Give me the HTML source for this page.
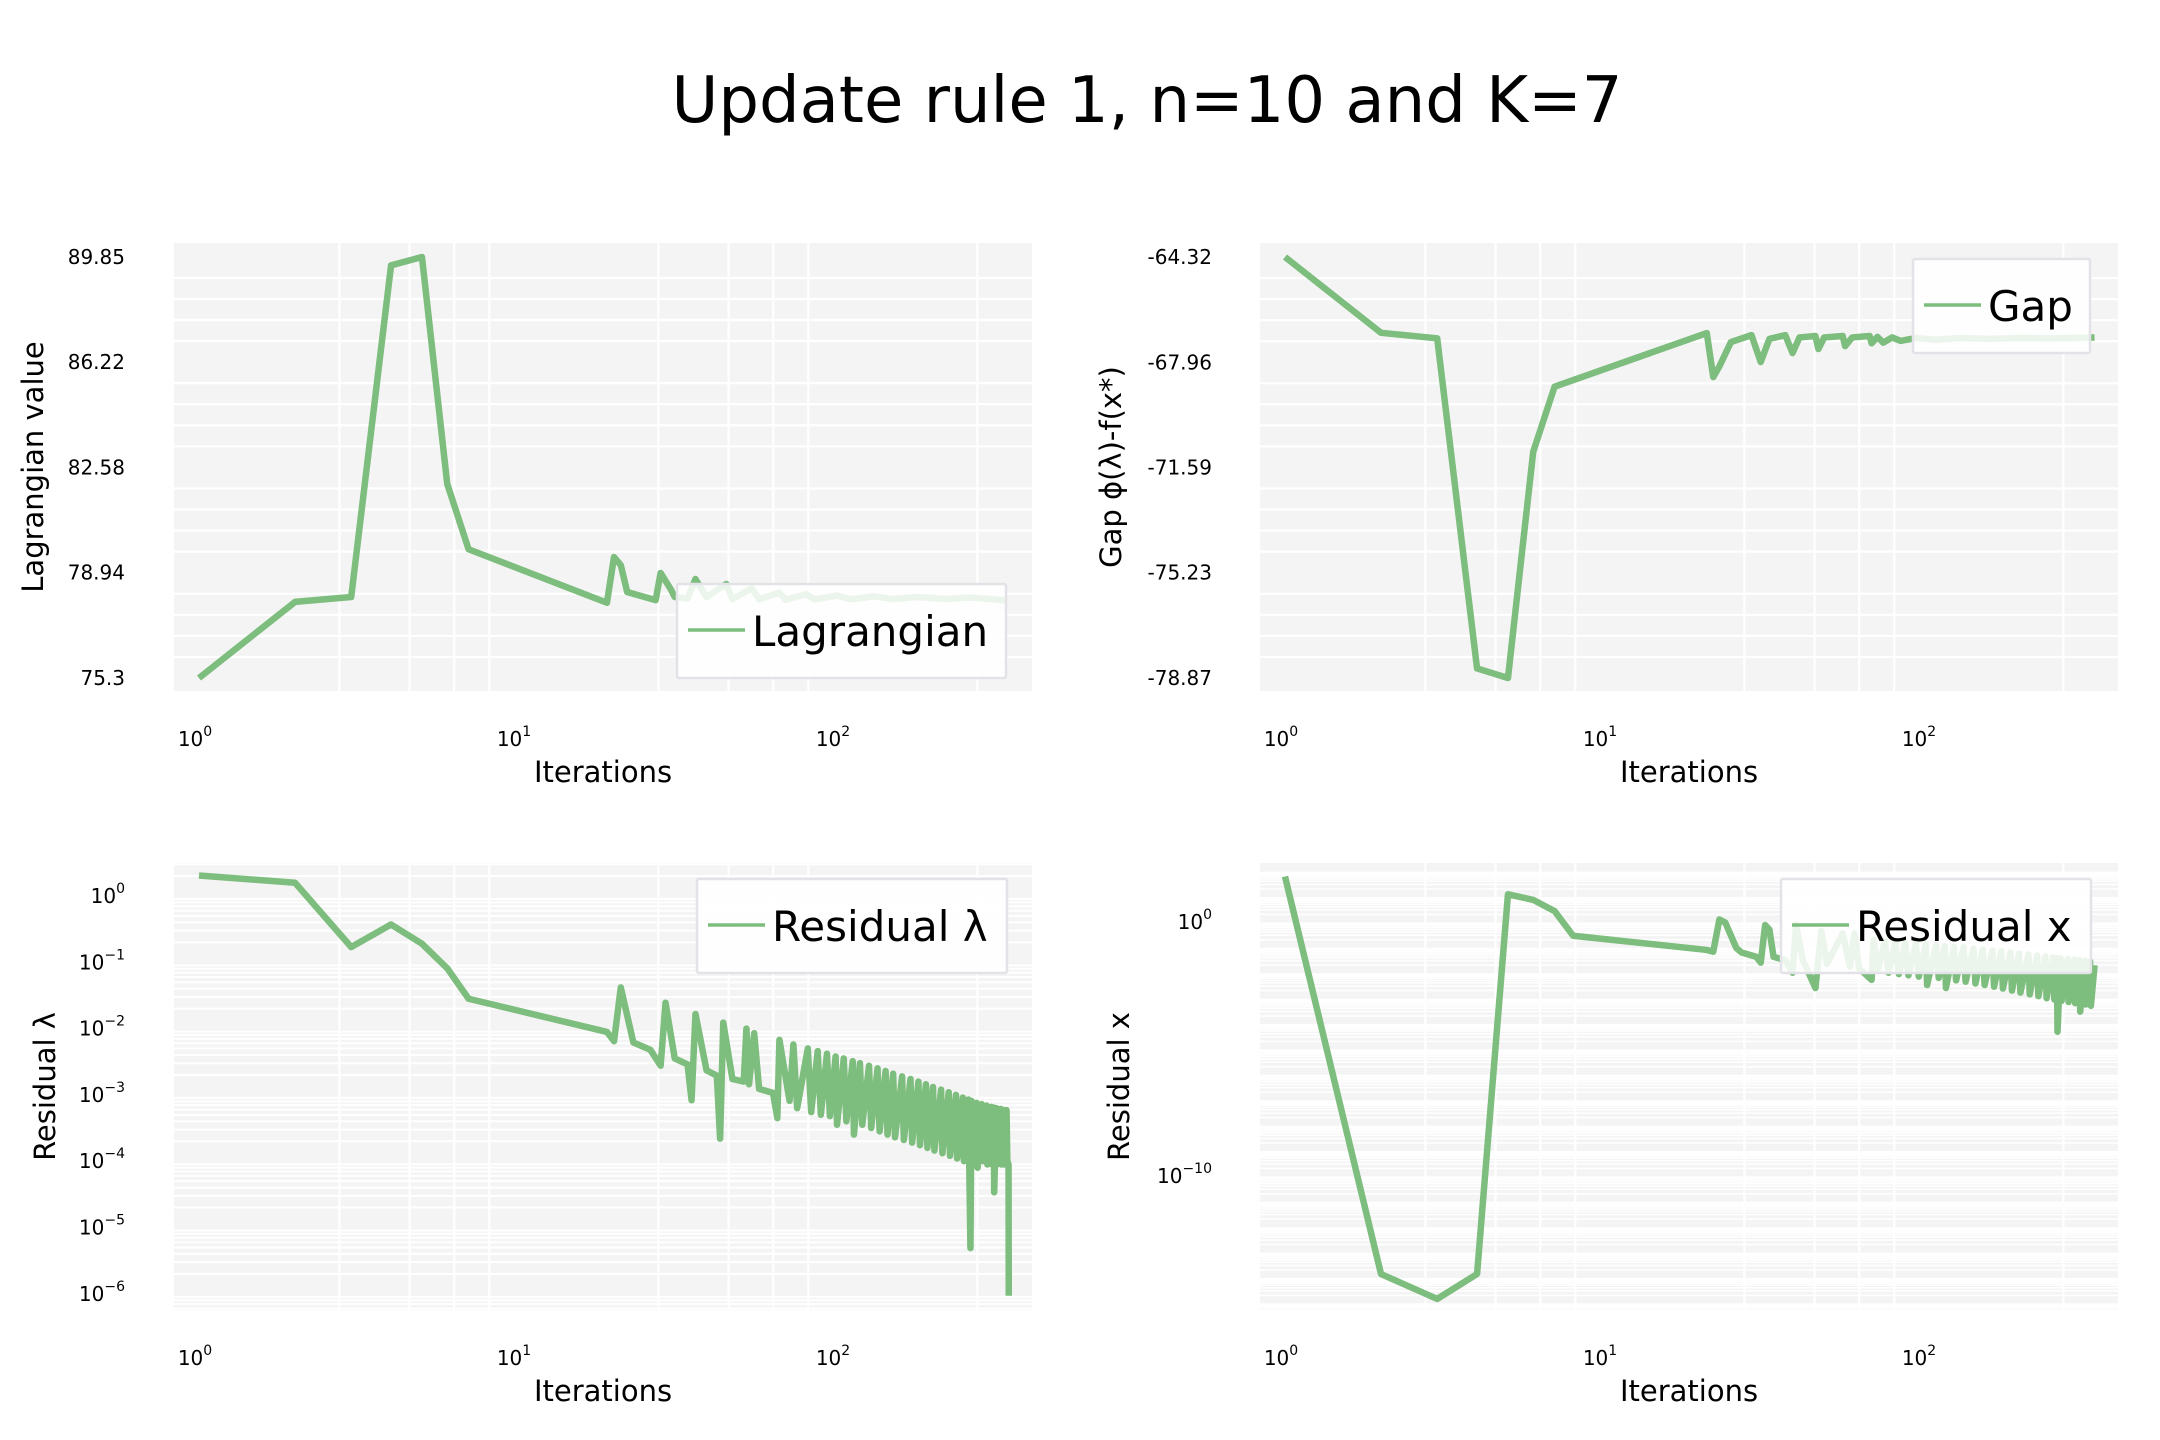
<!DOCTYPE html>
<html><head><meta charset="utf-8"><title>Update rule 1</title>
<style>
html,body{margin:0;padding:0;background:#fff;}
svg{display:block;font-family:"DejaVu Sans","Liberation Sans",sans-serif;}
</style></head>
<body>
<svg id="fig" width="2160" height="1440" viewBox="0 0 2160 1440" xmlns="http://www.w3.org/2000/svg">
<text x="1147" y="122" font-size="64" text-anchor="middle" fill="#000">Update rule 1, n=10 and K=7</text>
</svg>
<script>
// ---- data ----
const xTickExps = [0, 1, 2];
const lagIters = [1,2,3,4,5,6,7,19,20,21,22,27,28,30,31,34,36,39,45,47,54,57,66,69,80,85,100,110,130,150,180,220,260,300,340];
const lagVals = [75.3,77.93,78.1,89.56,89.85,82.01,79.75,77.9,79.48,79.2,78.27,77.99,78.93,78.4,78.1,78.05,78.72,78.1,78.55,78.02,78.4,78.02,78.25,78.0,78.2,78.02,78.15,78.02,78.12,78.03,78.1,78.03,78.08,78.03,77.98];
const lagTicks = [75.3, 78.94, 82.58, 86.22, 89.85];
const lagTickLabels = ["75.3","78.94","82.58","86.22","89.85"];

const gapIters = [1,2,3,4,5,6,7,21,22,23,25,29,31,33,37,39,41,46,47,49,56,57,60,68,69,72,75,80,85,95,110,130,160,200,250,300,345];
const gapVals = [-64.32,-66.94,-67.13,-78.54,-78.87,-71.05,-68.8,-66.95,-68.47,-68.1,-67.26,-67.02,-67.95,-67.15,-67.02,-67.64,-67.1,-67.05,-67.5,-67.1,-67.05,-67.4,-67.1,-67.05,-67.3,-67.08,-67.28,-67.1,-67.22,-67.12,-67.18,-67.12,-67.15,-67.12,-67.13,-67.12,-67.1];
const gapTicks = [-78.87, -75.23, -71.59, -67.96, -64.32];
const gapTickLabels = ["-78.87","-75.23","-71.59","-67.96","-64.32"];

const lamIters = [1,2,3,4,5,6,7,19,20,21,23,26,28,29,31,34,35,36,39,42,43,44,47,51,52,53,55,57,63,65,66,71,73,75,
 81,83,87,89,93,95,99,100,105,107,112,113,118,120,126,128,134,136,142,144,150,152,160,162,170,172,180,182,190,192,200,202,212,214,224,226,236,238,248,250,258,262,264,266,274,276,284,286,294,296,304,306,310,311,316,318,326,328,334,336,340,342,345,345.5];
const lamLog = [0.31,0.2,-0.77,-0.43,-0.72,-1.09,-1.55,-2.05,-2.19,-1.38,-2.21,-2.32,-2.56,-1.61,-2.45,-2.54,-3.08,-1.78,-2.63,-2.71,-3.66,-1.91,-2.76,-2.8,-2.0,-2.84,-2.07,-2.91,-2.97,-3.35,-2.17,-3.09,-2.24,-3.2,
 -2.3,-3.26,-2.34,-3.3,-2.38,-3.32,-2.42,-3.45,-2.45,-3.4,-2.49,-3.6,-2.52,-3.45,-2.56,-3.5,-2.6,-3.55,-2.64,-3.6,-2.68,-3.64,-2.72,-3.68,-2.76,-3.72,-2.8,-3.76,-2.84,-3.8,-2.88,-3.84,-2.92,-3.88,-2.96,-3.92,-3.0,-3.96,-3.04,-4.0,-3.07,-5.31,-3.09,-4.04,-3.12,-4.1,-3.14,-4.0,-3.16,-4.05,-3.18,-4.05,-3.19,-4.47,-3.2,-4.05,-3.21,-4.05,-3.23,-4.05,-3.23,-4.0,-4.05,-6.03];
const lamTickExps = [0,-1,-2,-3,-4,-5,-6];

const rxIters = [1,2,3,4,5,6,7,8,21,22,23,24,26,27,30,31,32,33,34,37,39,40,42,46,48,50,56,59,61,63,69,70,72,
 76,78,82,84,88,90,95,97,102,103,110,112,117,118,125,127,134,136,144,146,154,156,165,167,176,178,188,190,200,202,214,216,228,230,242,244,256,258,263,264,270,272,284,286,298,300,310,311,322,324,334,336,345];
const rxLog = [1.79,-13.86,-14.84,-13.86,1.09,0.87,0.43,-0.54,-1.1,-1.17,0.1,-0.02,-1.03,-1.2,-1.37,-1.6,-0.12,-0.3,-1.37,-1.5,-2.0,-0.12,-1.5,-2.6,-0.36,-1.65,-0.45,-1.75,-0.45,-1.82,-2.28,-0.7,-1.9,
 -0.75,-2.0,-0.8,-2.05,-0.82,-2.1,-0.85,-2.15,-0.88,-2.48,-0.9,-2.2,-0.95,-2.6,-0.98,-2.3,-1.0,-2.35,-1.05,-2.42,-1.08,-2.48,-1.12,-2.55,-1.15,-2.62,-1.2,-2.7,-1.24,-2.78,-1.28,-2.85,-1.32,-2.92,-1.36,-3.0,-1.4,-3.05,-1.42,-4.32,-1.44,-3.1,-1.46,-3.15,-1.48,-3.2,-1.5,-3.53,-1.52,-3.25,-1.55,-3.3,-1.7];
const rxTickExps = [0,-10];

// ---- helpers ----
const NS = "http://www.w3.org/2000/svg";
const svg = document.getElementById("fig");
function mk(tag, attrs, parent){
  const e = document.createElementNS(NS, tag);
  for (const k in attrs) e.setAttribute(k, attrs[k]);
  (parent || svg).appendChild(e);
  return e;
}
const LINE = "#7dbd7d";
const D = 319;

function makePanel(cfg){
  const g = mk("g", {});
  
  
  const L = cfg.left, T = cfg.top, W = cfg.w, H = cfg.h;
  const sx = v => cfg.x0 + D * Math.log10(v);
  const bg = mk("rect", {x:L, y:T, width:W, height:H, fill:"#f4f4f4"}, g);
  
  
  const fr = [0.44, 0.66, 0.80, 0.91];
  for (let dec = 0; dec < 3; dec++) {
    for (const f of fr) {
      const x = cfg.x0 + D * (dec + f);
      if (x > L + W - 2) continue;
      const gl = mk("line", {x1:x, x2:x, y1:T, y2:T+H, stroke:"#fff", "stroke-width":2.2}, g);
      
      
    }
  }
  cfg.hgrid.forEach(y => {
    if (y <= T + 1 || y >= T + H - 1) return;
    const gl = mk("line", {x1:L, x2:L+W, y1:y, y2:y, stroke:"#fff", "stroke-width":cfg.hgw}, g);
    
    
  });
  const cp = mk("clipPath", {id: cfg.name + "-clip"}, g);
  mk("rect", {x:L, y:T, width:W, height:H}, cp);
  let d = "";
  cfg.xs.forEach((it, i) => {
    d += (i ? "L" : "M") + sx(it).toFixed(2) + "," + cfg.sy(cfg.ys[i]).toFixed(2);
  });
  const path = mk("path", {d:d, fill:"none", stroke:LINE, "stroke-width":6.5, "stroke-linejoin":"round", "stroke-linecap":"butt", "clip-path":"url(#" + cfg.name + "-clip)"}, g);
  
  
  xTickExps.forEach(e => {
    const x = sx(Math.pow(10, e));
    const t = mk("text", {x:x - 4, y:T + H + 55, "font-size":20, "text-anchor":"middle", fill:"#000"}, g);
    
    
    t.appendChild(document.createTextNode("10"));
    const s = mk("tspan", {dy:-10, "font-size":14}, t);
    s.textContent = String(e);
  });
  const xt = mk("text", {x:L + W/2, y:T + H + 91, "font-size":29, "text-anchor":"middle", fill:"#000"}, g);
  
  
  xt.textContent = "Iterations";
  cfg.yticks.forEach((v, i) => {
    const y = cfg.sy(v);
    const t = mk("text", {x:cfg.tickRight, y:y + 7, "font-size":20, "text-anchor":"end", fill:"#000"}, g);
    
    
    if (cfg.logTicks) {
      t.appendChild(document.createTextNode("10"));
      const s = mk("tspan", {dy:-10, "font-size":14}, t);
      s.textContent = String(v).replace("-", "\u2212");
    } else {
      t.textContent = cfg.ytickLabels[i];
    }
  });
  const cy = T + H/2;
  const yt = mk("text", {x:cfg.ytx, y:cy, "font-size":29, "text-anchor":"middle", fill:"#000", transform:"rotate(-90 " + cfg.ytx + " " + cy + ")"}, g);
  
  
  yt.textContent = cfg.ytitle;
  const lg = mk("g", {}, g);
  
  
  const lb = cfg.legend;
  const box = mk("rect", {x:lb.x, y:lb.y, width:lb.w, height:94, fill:"#fff", "fill-opacity":0.85, stroke:"#e2e2e8", "stroke-width":2.5, rx:2}, lg);
  
  
  const ll = mk("line", {x1:lb.x + 11, x2:lb.x + 68, y1:lb.y + 46, y2:lb.y + 46, stroke:LINE, "stroke-width":3.5}, lg);
  
  
  const lt = mk("text", {x:lb.x + 75, y:lb.y + 62, "font-size":42, fill:"#000"}, lg);
  
  
  lt.textContent = cfg.series;
}

function linGrid(ticksPx){
  const out = [];
  for (let i = 0; i < ticksPx.length - 1; i++) {
    const a = ticksPx[i], b = ticksPx[i+1];
    for (let k = 1; k <= 4; k++) out.push(a + (b - a) * k / 5);
  }
  return out;
}
function logGrid(y0, dec, eMin, eMax){
  const out = [];
  for (let e = eMin; e <= eMax; e++) {
    for (let k = 2; k <= 9; k++) out.push(y0 - dec * (e + Math.log10(k)));
  }
  return out;
}

const syLag = v => 257 + (89.85 - v) / 14.55 * 421;
makePanel({name:"lagrangian-panel", series:"Lagrangian", left:174, top:243, w:858, h:448, x0:199,
  xs:lagIters, ys:lagVals, sy:syLag, yticks:lagTicks, ytickLabels:lagTickLabels, tickRight:125,
  hgrid:linGrid(lagTicks.map(syLag).reverse()), hgw:2.2, ytitle:"Lagrangian value", ytx:43,
  legend:{x:677, y:584, w:329}});

const syGap = v => 257 + (-64.32 - v) / 14.55 * 421;
makePanel({name:"gap-panel", series:"Gap", left:1260, top:243, w:858, h:448, x0:1285,
  xs:gapIters, ys:gapVals, sy:syGap, yticks:gapTicks, ytickLabels:gapTickLabels, tickRight:1212,
  hgrid:linGrid(gapTicks.map(syGap).reverse()), hgw:2.2, ytitle:"Gap \u03d5(\u03bb)-f(x*)", ytx:1121,
  legend:{x:1913, y:259, w:177}});

const syLam = e => 896 - e * 66.3;
makePanel({name:"residual-lambda-panel", series:"Residual \u03bb", left:174, top:863, w:858, h:447, x0:199,
  xs:lamIters, ys:lamLog, sy:syLam, yticks:lamTickExps, logTicks:true, tickRight:125,
  hgrid:logGrid(896, 66.3, -7, 0), hgw:2, ytitle:"Residual \u03bb", ytx:55,
  legend:{x:697, y:879, w:310}});

const syRx = e => 922 - e * 25.4;
makePanel({name:"residual-x-panel", series:"Residual x", left:1260, top:863, w:858, h:447, x0:1285,
  xs:rxIters, ys:rxLog, sy:syRx, yticks:rxTickExps, logTicks:true, tickRight:1212,
  hgrid:logGrid(922, 25.4, -16, 1), hgw:1.5, ytitle:"Residual x", ytx:1129,
  legend:{x:1781, y:879, w:310}});
</script>
</body></html>
